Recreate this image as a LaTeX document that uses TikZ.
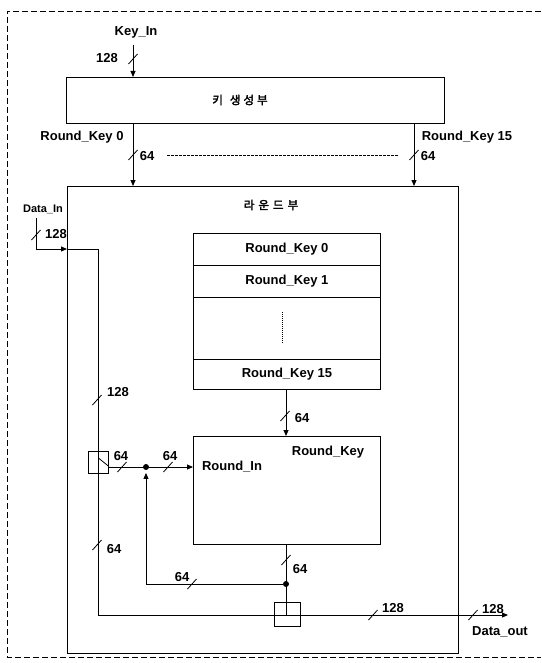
\documentclass[tikz,border=0pt]{standalone}
\usepackage{fontspec}
\setmainfont{Liberation Sans}
\newfontfamily\krfont[AutoFakeBold=2.5]{Noto Sans CJK KR}
\usetikzlibrary{arrows.meta,calc}
\newcommand\busmark[1]{\draw[line width=0.8pt] ($(#1)+(-4.5,5)$) -- ($(#1)+(4.5,-5)$);}
\begin{document}
\begin{tikzpicture}[x=1pt,y=-1pt,line width=0.9pt,
  lbl/.style={font=\bfseries\fontsize{13}{15}\selectfont, inner sep=0pt},
  kr/.style={font=\krfont\bfseries\fontsize{11.5}{13}\selectfont, inner sep=0pt},
  blk/.style={draw, anchor=north west, inner sep=0pt},
  arr/.style={-{Triangle[length=6pt,width=5pt]}},
  frame/.style={dash pattern=on 6pt off 3pt, line width=0.9pt},
  dot/.style={circle, fill, inner sep=0pt, minimum size=6pt}]
\useasboundingbox (0,0) rectangle (541,663);
% outer dashed frame
\coordinate (ftl) at (7,11);
\coordinate (ftr) at (541,11);
\coordinate (fbl) at (7,657);
\coordinate (fbr) at (541,657);
\draw[frame] (ftr) -- (ftl) -- (fbl) -- (fbr);
% blocks
\node[blk, minimum width=378pt, minimum height=46pt] (kg) at (66,77) {};
\node[kr] at (240,100) {키\hspace{7pt}생\hspace{3pt}성\hspace{3pt}부};
\node[blk, minimum width=391pt, minimum height=467pt] (rb) at (67,186) {};
\node[kr] at (271,205) {라\hspace{4pt}운\hspace{4pt}드\hspace{4pt}부};
\node[blk, minimum width=187pt, minimum height=32pt] (rk0) at (193,233) {};
\node[blk, minimum width=187pt, minimum height=32pt] (rk1) at (193,265) {};
\node[blk, minimum width=187pt, minimum height=62pt] (rkd) at (193,297) {};
\node[blk, minimum width=187pt, minimum height=30pt] (rk15) at (193,359) {};
\node[lbl] at (rk0.center) {Round\_Key 0};
\node[lbl] at (rk1.center) {Round\_Key 1};
\node[lbl] at (rk15.center) {Round\_Key 15};
\coordinate (vd1) at (282,312);
\coordinate (vd2) at (282,343);
\draw[line width=0.6pt, dash pattern=on 1pt off 1pt] (vd1) -- (vd2);
\node[blk, minimum width=187pt, minimum height=108pt] (rf) at (193,436) {};
\node[lbl] at (328,452) {Round\_Key};
\node[lbl] at (232,467) {Round\_In};
\node[blk, minimum width=20pt, minimum height=22pt] (sp) at (88,451) {};
\node[blk, minimum width=26pt, minimum height=24pt] (cb) at (274,602) {};
% key input
\coordinate (kin) at (133,45);
\draw[arr] (kin) -- (kin |- kg.north);
\node[lbl] at (136,32) {Key\_In};
\busmark{133,59}
\node[lbl] at (107,58) {128};
% round keys from key generator
\coordinate (k15) at (414,45);
\draw[arr] (kg.south -| kin) -- (rb.north -| kin);
\draw[arr] (kg.south -| k15) -- (rb.north -| k15);
\node[lbl] at (82,137) {Round\_Key 0};
\node[lbl] at (467,137) {Round\_Key 15};
\busmark{133,155}
\busmark{414,155}
\node[lbl] at (147,156) {64};
\node[lbl] at (428,156) {64};
\coordinate (dl1) at (167,155);
\coordinate (dl2) at (398,155);
\draw[line width=0.7pt, dash pattern=on 2.5pt off 1.5pt] (dl1) -- (dl2);
% data in / data path
\coordinate (din) at (36,218);
\coordinate (dc) at (36,249);
\coordinate (dtop) at (98,249);
\coordinate (dbot) at (98,615);
\coordinate (dout) at (508,615);
\node[lbl, font=\bfseries\fontsize{11}{13}\selectfont] at (43,209) {Data\_In};
\draw[arr] (din) -- (dc) -- (dc -| rb.west);
\draw[arr] (dc -| rb.west) -- (dtop) -- (dbot) -- (dout);
\busmark{36,235}
\node[lbl] at (56,234) {128};
\busmark{97,400}
\node[lbl] at (118,392) {128};
\busmark{97,545}
\node[lbl] at (114,549) {64};
\draw[line width=0.8pt] ($(sp.north)+(0,7)$) -- ($(sp.east)+(0,4)$);
% splitter output to round function
\coordinate (so) at (108,467);
\node[dot] (d1) at (146,467) {};
\draw[arr] (so) -- (so -| rf.west);
\busmark{122,467}
\busmark{168,467}
\node[lbl] at (121,456) {64};
\node[lbl] at (170,456) {64};
% round key register to round function
\coordinate (kx) at (286,389);
\draw[arr] (rk15.south -| kx) -- (rf.north -| kx);
\busmark{285,416}
\node[lbl] at (302,418) {64};
% round function output and feedback
\node[dot] (d2) at (286,584) {};
\draw (rf.south -| d2) -- (d2 |- dbot);
\busmark{286,560}
\node[lbl] at (300,569) {64};
\draw[arr, shorten >=2.5pt] (d2) -- (d2 -| d1) -- (d1);
\busmark{192,584}
\node[lbl] at (182,577) {64};
% output
\busmark{373,615}
\busmark{473,615}
\node[lbl] at (393,608) {128};
\node[lbl] at (493,609) {128};
\node[lbl] at (500,632) {Data\_out};
\end{tikzpicture}
\end{document}
